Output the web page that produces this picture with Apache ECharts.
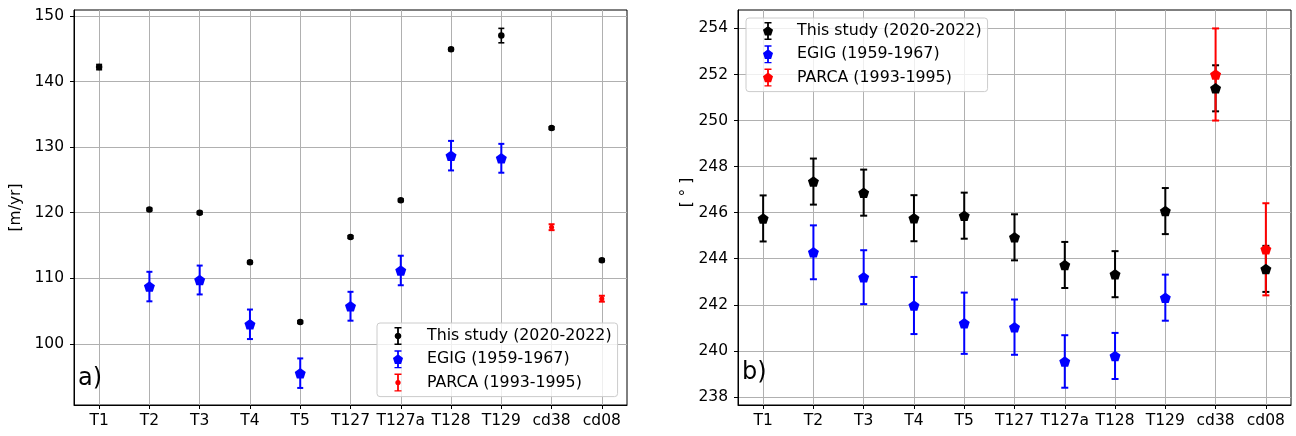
<!DOCTYPE html>
<html><head><meta charset="utf-8">
<script src="https://cdn.jsdelivr.net/npm/echarts@6/dist/echarts.min.js"></script>
<style>html,body{margin:0;padding:0;background:#fff}#c{width:1296px;height:436px}</style>
</head><body><div id="c"></div>
<script>
// ---------- data ----------
const categories = ['T1','T2','T3','T4','T5','T127','T127a','T128','T129','cd38','cd08'];
const seriesNames = ['This study (2020-2022)','EGIG (1959-1967)','PARCA (1993-1995)'];

// panel a) velocity [m/yr]
const velStudy    = [142.2, 120.5, 120.0, 112.45, 103.35, 116.3, 121.9, 144.9, 147.0, 132.9, 112.75];
const velStudyErr = [0.4, 0.2, 0.2, 0.2, 0.2, 0.2, 0.2, 0.2, 1.1, 0.2, 0.2];
const velEgig     = [null, 108.75, 109.75, 103.0, 95.55, 105.75, 111.2, 128.7, 128.3, null, null];
const velEgigErr  = [null, 2.25, 2.2, 2.25, 2.25, 2.2, 2.25, 2.25, 2.2, null, null];
const velParca    = [null, null, null, null, null, null, null, null, null, 117.8, 106.9];
const velParcaErr = [null, null, null, null, null, null, null, null, null, 0.45, 0.45];
const velTicks = [100, 110, 120, 130, 140, 150];

// panel b) direction [deg]
const dirStudy    = [245.75, 247.35, 246.87, 245.76, 245.87, 244.93, 243.73, 243.33, 246.07, 251.4, 243.56];
const dirStudyErr = [1.0, 1.0, 1.0, 1.0, 1.0, 1.0, 1.0, 1.0, 1.0, 1.0, 1.0];
const dirEgig     = [null, 244.28, 243.2, 241.97, 241.2, 241.03, 239.54, 239.78, 242.31, null, null];
const dirEgigErr  = [null, 1.17, 1.17, 1.24, 1.33, 1.2, 1.14, 1.0, 1.0, null, null];
const dirParca    = [null, null, null, null, null, null, null, null, null, 252.0, 244.41];
const dirParcaErr = [null, null, null, null, null, null, null, null, null, 2.0, 2.0];
const dirTicks = [238, 240, 242, 244, 246, 248, 250, 252, 254];

// ---------- helpers ----------
const FONT = 'DejaVu Sans';
const catIdx = categories.map((c, i) => i);
function ptData(vals){ const o=[]; vals.forEach((v,i)=>{ if(v!=null) o.push([i, v]); }); return o; }
function errData(vals, errs){ const o=[]; vals.forEach((v,i)=>{ if(v!=null) o.push([i, v-errs[i], v+errs[i]]); }); return o; }
function errRender(color, lw, cap){
  return function(params, api){
    const x = api.value(0);
    const p1 = api.coord([x, api.value(1)]);
    const p2 = api.coord([x, api.value(2)]);
    const st = {stroke: color, lineWidth: lw};
    return {type:'group', children:[
      {type:'line', shape:{x1:p1[0], y1:p1[1], x2:p2[0], y2:p2[1]}, style: st},
      {type:'line', shape:{x1:p1[0]-cap, y1:p1[1], x2:p1[0]+cap, y2:p1[1]}, style: st},
      {type:'line', shape:{x1:p2[0]-cap, y1:p2[1], x2:p2[0]+cap, y2:p2[1]}, style: st}
    ]};
  };
}
const PENT = 'path://M0,-1 L0.9511,-0.309 L0.5878,0.809 L-0.5878,0.809 L-0.9511,-0.309 Z';

// legend icons (errorbar + marker), bbox 0..40 x 0..18, marker centre at x=16
function pentPath(cx, cy, r){
  let s='';
  for(let k=0;k<5;k++){ const a=-Math.PI/2 + k*2*Math.PI/5; s += (k?'L':'M') + (cx+r*Math.cos(a)).toFixed(2)+','+(cy+r*Math.sin(a)).toFixed(2)+' '; }
  return s+'Z ';
}
function circPath(cx, cy, r){
  let s='';
  for(let k=0;k<24;k++){ const a=-Math.PI/2 + k*2*Math.PI/24; s += (k?'L':'M') + (cx+r*Math.cos(a)).toFixed(2)+','+(cy+r*Math.sin(a)).toFixed(2)+' '; }
  return s+'Z ';
}
const ebarPath = 'M15.1,0.7 L16.9,0.7 L16.9,17.3 L15.1,17.3 Z M12.5,0 L19.5,0 L19.5,1.4 L12.5,1.4 Z M12.5,16.6 L19.5,16.6 L19.5,18 L12.5,18 Z ';
const extentPath = 'M0,9 L0.01,9 L0,9.01 Z M40,9 L39.99,9 L40,9.01 Z';
const iconPent = 'path://' + ebarPath + pentPath(16, 9.3, 5.3) + extentPath;
const iconCirc = 'path://' + ebarPath + circPath(16, 9, 3.3) + extentPath;
const iconCircSmall = 'path://' + ebarPath + circPath(16, 9, 2.7) + extentPath;

const chart = echarts.init(document.getElementById('c'), null, {renderer:'canvas'});

function xAxisDef(gridIndex){
  return {
    type:'value', gridIndex, min:-0.5, max:10.5,
    axisLine:{show:true, onZero:false, lineStyle:{color:'#000', width:1}},
    axisTick:{show:true, inside:false, length:4, customValues: catIdx, lineStyle:{color:'#000', width:1}},
    axisLabel:{show:true, customValues: catIdx, formatter: v => categories[Math.round(v)] || '', color:'#000', fontSize:15.5, fontFamily:FONT, margin:8},
    splitLine:{show:true, lineStyle:{color:'#b0b0b0', width:1}}
  };
}
function yAxisDef(gridIndex, min, max, ticks, name, nameGap, namePad){
  return {
    type:'value', gridIndex, min, max,
    name, nameLocation:'middle', nameGap, nameRotate:90,
    nameTextStyle:{color:'#000', fontSize:15.5, fontFamily:FONT, padding: namePad},
    axisLine:{show:true, onZero:false, lineStyle:{color:'#000', width:1}},
    axisTick:{show:true, inside:false, length:4, customValues: ticks, lineStyle:{color:'#000', width:1}},
    axisLabel:{show:true, customValues: ticks, color:'#000', fontSize:15.5, fontFamily:FONT, margin:10},
    splitLine:{show:true, lineStyle:{color:'#b0b0b0', width:1}}
  };
}
function errSeries(ax, vals, errs, color, lw, cap){
  return {type:'custom', xAxisIndex:ax, yAxisIndex:ax, data: errData(vals, errs), encode:{x:0, y:[1,2]},
          renderItem: errRender(color, lw, cap), z:2, silent:true, clip:false};
}
function ptSeries(ax, name, vals, color, symbol, size){
  return {type:'scatter', name, xAxisIndex:ax, yAxisIndex:ax, data: ptData(vals), symbol, symbolSize:size,
          itemStyle:{color, opacity:1}, z:3, silent:true};
}
const legendCommon = {
  orient:'vertical', itemWidth:40, itemHeight:18, itemGap:5.3, selectedMode:false,
  backgroundColor:'rgba(255,255,255,0.8)', borderColor:'#cccccc', borderWidth:1, borderRadius:3,
  textStyle:{color:'#000', fontSize:15.8, fontFamily:FONT}
};

chart.setOption({
  animation:false,
  backgroundColor:'#fff',
  grid:[
    {left:74, top:10, width:553, height:395, show:true, borderColor:'#000', borderWidth:1, backgroundColor:'transparent', outerBoundsMode:'none'},
    {left:738, top:10, width:553, height:395, show:true, borderColor:'#000', borderWidth:1, backgroundColor:'transparent', outerBoundsMode:'none'}
  ],
  xAxis:[xAxisDef(0), xAxisDef(1)],
  yAxis:[
    yAxisDef(0, 90.7, 150.9, velTicks, '[m/yr]', 50, 0),
    yAxisDef(1, 237.65, 254.8, dirTicks, '[ ° ]', 22, [0,0,0,30])
  ],
  legend:[
    Object.assign({left:377, top:323, padding:[4,6,5,5],
      data:[{name:seriesNames[0], icon:iconCirc},{name:seriesNames[1], icon:iconPent},{name:seriesNames[2], icon:iconCircSmall}]}, legendCommon),
    Object.assign({left:746, top:18, padding:[4,6,5,6],
      data:[{name:seriesNames[0], icon:iconPent},{name:seriesNames[1], icon:iconPent},{name:seriesNames[2], icon:iconPent}]}, legendCommon)
  ],
  graphic:[
    {type:'text', left:78, top:367, style:{text:'a)', fontSize:24, fontFamily:FONT, fill:'#000'}, z:10},
    {type:'text', left:742, top:361, style:{text:'b)', fontSize:24, fontFamily:FONT, fill:'#000'}, z:10}
  ],
  series:[
    errSeries(0, velStudy, velStudyErr, '#000', 1.6, 3),
    errSeries(0, velEgig, velEgigErr, '#0000ff', 2, 3),
    errSeries(0, velParca, velParcaErr, '#ff0000', 2, 3),
    ptSeries(0, seriesNames[0], velStudy, '#000', 'circle', 6.5),
    ptSeries(0, seriesNames[1], velEgig, '#0000ff', PENT, [11, 10.5]),
    ptSeries(0, seriesNames[2], velParca, '#ff0000', 'circle', 5),
    errSeries(1, dirStudy, dirStudyErr, '#000', 2, 3.5),
    errSeries(1, dirEgig, dirEgigErr, '#0000ff', 2, 3.5),
    errSeries(1, dirParca, dirParcaErr, '#ff0000', 2, 3.5),
    ptSeries(1, seriesNames[0], dirStudy, '#000', PENT, [11, 10.5]),
    ptSeries(1, seriesNames[1], dirEgig, '#0000ff', PENT, [11, 10.5]),
    ptSeries(1, seriesNames[2], dirParca, '#ff0000', PENT, [11, 10.5])
  ]
});
</script>
</body></html>
